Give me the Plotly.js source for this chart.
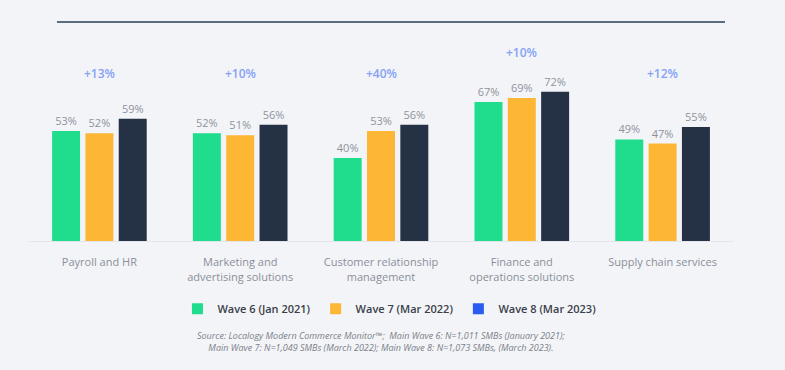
<!DOCTYPE html>
<html>
<head>
<meta charset="utf-8">
<script src="https://cdn.plot.ly/plotly-3.0.1.min.js"></script>
<style>
  html, body { margin: 0; padding: 0; background: #f3f4f8; }
  #chart { width: 785px; height: 370px; }
</style>
</head>
<body>
<div id="chart"></div>
<script>
// ---- data ----
const categories = [
  "Payroll and HR",
  "Marketing and<br>advertising solutions",
  "Customer relationship<br>management",
  "Finance and<br>operations solutions",
  "Supply chain services"
];
const wave6 = [53, 52, 40, 67, 49];
const wave7 = [52, 51, 53, 69, 47];
const wave8 = [59, 56, 56, 72, 55];
const increaseLabels = ["+13%", "+10%", "+40%", "+10%", "+12%"];
const seriesNames = ["Wave 6 (Jan 2021)", "Wave 7 (Mar 2022)", "Wave 8 (Mar 2023)"];
const sourceLines = [
  "Source: Localogy Modern Commerce Monitor\u2122;  Main Wave 6: N=1,011 SMBs (January 2021);",
  "Main Wave 7: N=1,049 SMBs (March 2022); Main Wave 8: N=1,073 SMBs, (March 2023)."
];

// ---- styles ----
const barColors = ["#1fdd8c", "#fdb734", "#253246"];
const legendColors = ["#1fdd8c", "#fdb734", "#2b5cf2"];
const labelFont = { family: "Open Sans, sans-serif", size: 11, color: "#8e939b" };

const seriesVals = [wave6, wave7, wave8];
const traces = seriesVals.map((vals, i) => ({
  type: "bar",
  x: categories,
  y: vals,
  name: seriesNames[i],
  showlegend: false,
  marker: { color: barColors[i] },
  text: vals.map(v => v + "%"),
  textposition: "outside",
  textfont: labelFont,
  cliponaxis: false,
  hoverinfo: "skip"
}));
// legend swatches
seriesNames.forEach((n, i) => {
  traces.push({
    type: "scatter",
    mode: "markers",
    x: [null], y: [null],
    name: n,
    marker: { symbol: "square", size: 11, color: legendColors[i] },
    showlegend: true
  });
});

const annotations = categories.map((c, i) => ({
  x: c,
  y: Math.max(81, Math.max(wave6[i], wave7[i], wave8[i]) + 19),
  xref: "x", yref: "y",
  text: increaseLabels[i],
  showarrow: false,
  font: { family: "Open Sans, sans-serif", size: 12, weight: 600, color: "#85a2f5" }
}));
annotations.push({
  xref: "paper", yref: "paper",
  x: 0.5, y: 0, yanchor: "top",
  yshift: -86,
  text: "<i>" + sourceLines.join("<br>") + "</i>",
  showarrow: false,
  align: "center",
  font: { family: "Open Sans, sans-serif", size: 9, color: "#7a7f88" }
});

const layout = {
  width: 785, height: 370,
  paper_bgcolor: "#f3f4f8",
  plot_bgcolor: "#f3f4f8",
  margin: { l: 29, r: 52, t: 44, b: 129 },
  barmode: "group",
  bargap: 0.29,
  bargroupgap: 0.16,
  xaxis: {
    type: "category",
    showgrid: false,
    zeroline: false,
    showline: true,
    linecolor: "#e3e5ea",
    linewidth: 1,
    ticks: "",
    tickfont: { family: "Open Sans, sans-serif", size: 11, color: "#8a8f98" },
    ticklabelstandoff: 11
  },
  yaxis: {
    range: [0, 95],
    visible: false,
    fixedrange: true
  },
  legend: {
    orientation: "h",
    x: 0.512, xanchor: "center",
    y: -0.27, yanchor: "top",
    font: { family: "Open Sans, sans-serif", size: 11, weight: 600, color: "#3a3f49" },
    itemwidth: 30,
    tracegroupgap: 0,
    bgcolor: "rgba(0,0,0,0)"
  },
  shapes: [{
    type: "line", xref: "paper", yref: "paper",
    x0: (57 - 29) / 704, x1: (725 - 29) / 704,
    y0: 1 + 22 / 197, y1: 1 + 22 / 197,
    line: { color: "#5c6b80", width: 2 }
  }],
  annotations: annotations
};

Plotly.newPlot("chart", traces, layout, { displayModeBar: false, staticPlot: true });
</script>
</body>
</html>
